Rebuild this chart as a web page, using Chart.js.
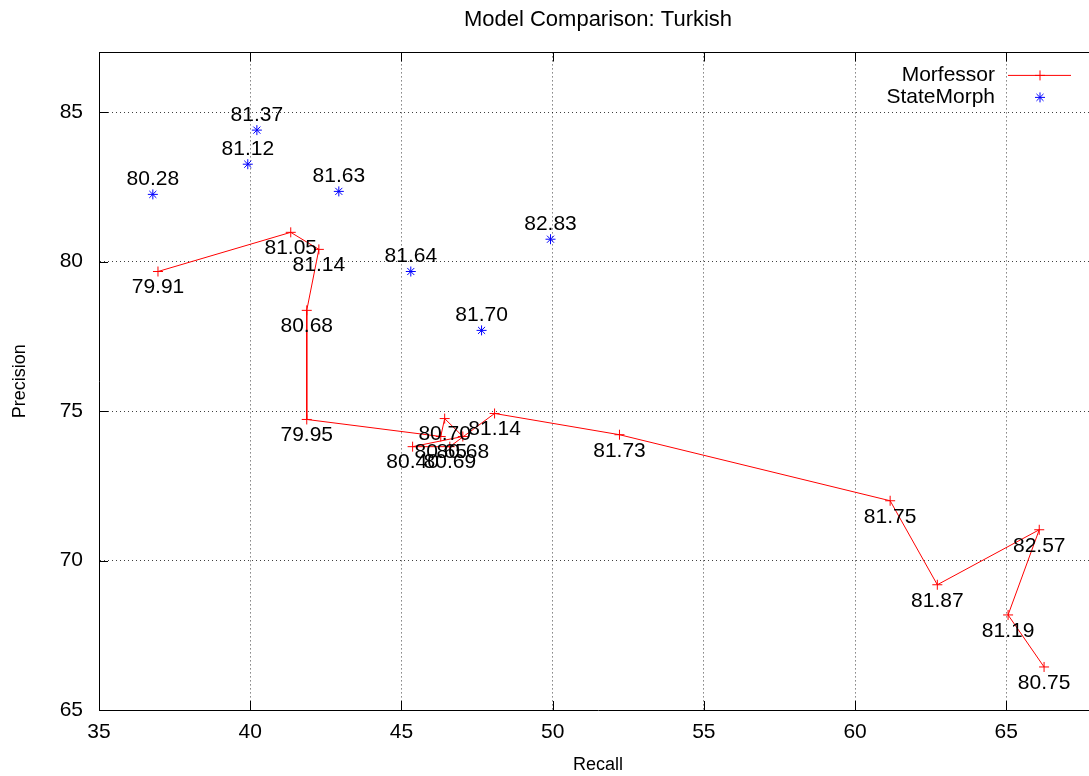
<!DOCTYPE html>
<html>
<head>
<meta charset="utf-8">
<script src="https://cdn.jsdelivr.net/npm/chart.js@4/dist/chart.umd.min.js"></script>
<style>
html, body { margin: 0; padding: 0; overflow: hidden; background: #fff; }
#wrap { width: 1196px; height: 776px; }
</style>
</head>
<body>
<div id="wrap"><canvas id="chart" width="1196" height="776"></canvas></div>
<script>
const morfRecall = [36.95, 41.34, 42.27, 41.87, 41.87, 46.30, 46.43, 47.03, 45.37, 46.60, 48.08, 52.21, 61.16, 62.72, 66.09, 65.06, 66.25];
const morfPrecision = [79.67, 80.98, 80.41, 78.37, 74.72, 74.15, 74.75, 74.15, 73.81, 73.81, 74.92, 74.21, 72.00, 69.19, 71.03, 68.18, 66.44];
const morfLabels = ['79.91', '81.05', '81.14', '80.68', '79.95', '80.65', '80.70', '80.68', '80.40', '80.69', '81.14', '81.73', '81.75', '81.87', '82.57', '81.19', '80.75'];

const smRecall = [36.78, 39.92, 40.22, 42.93, 49.93, 45.31, 47.65];
const smPrecision = [82.25, 83.26, 84.40, 82.35, 80.75, 79.67, 77.70];
const smLabels = ['80.28', '81.12', '81.37', '81.63', '82.83', '81.64', '81.70'];

const xTicks = [35, 40, 45, 50, 55, 60, 65];
const yTicks = [65, 70, 75, 80, 85];

const FONT = "'Liberation Sans', Arial, Helvetica, sans-serif";
const ctx = document.getElementById('chart');

function drawMark(c, style, x, y, r) {
    c.beginPath();
    c.moveTo(x - r, y); c.lineTo(x + r, y);
    c.moveTo(x, y - r); c.lineTo(x, y + r);
    if (style === 'star') {
        const d = r * Math.SQRT1_2;
        c.moveTo(x - d, y - d); c.lineTo(x + d, y + d);
        c.moveTo(x - d, y + d); c.lineTo(x + d, y - d);
    }
    c.stroke();
}

const pointText = {
    id: 'pointText',
    afterDatasetsDraw(chart) {
        const c = chart.ctx;
        c.save();
        c.font = '21px ' + FONT;
        c.fillStyle = '#000';
        c.textAlign = 'center';
        c.textBaseline = 'middle';
        chart.data.datasets.forEach((ds, i) => {
            chart.getDatasetMeta(i).data.forEach((pt, j) => {
                c.fillText(ds.pointText[j], pt.x, pt.y + ds.textOffset);
            });
        });
        c.restore();
    }
};

const frame = {
    id: 'frame',
    afterDraw(chart) {
        const {left, right, top, bottom} = chart.chartArea;
        const c = chart.ctx;
        const xs = chart.scales.x, ys = chart.scales.y;
        c.save();
        c.strokeStyle = '#000';
        c.lineWidth = 1;
        c.beginPath();
        const t = Math.round(top) + 0.5;
        c.moveTo(left, t); c.lineTo(right, t);
        xs.ticks.forEach((tk) => {
            const px = Math.round(xs.getPixelForValue(tk.value)) + 0.5;
            c.moveTo(px, bottom); c.lineTo(px, bottom - 9);
            c.moveTo(px, t); c.lineTo(px, t + 9);
        });
        ys.ticks.forEach((tk) => {
            const py = Math.round(ys.getPixelForValue(tk.value)) + 0.5;
            c.moveTo(left, py); c.lineTo(left + 9, py);
        });
        c.stroke();

        // key, top right inside the plot
        c.font = '21px ' + FONT;
        c.fillStyle = '#000';
        c.textAlign = 'right';
        c.textBaseline = 'middle';
        chart.data.datasets.forEach((ds, i) => {
            const y = top + 23 + i * 22;
            c.fillText(ds.label, right - 102, y);
            c.strokeStyle = ds.borderColor;
            if (ds.showLine) {
                c.beginPath();
                c.moveTo(right - 89, y); c.lineTo(right - 26, y);
                c.stroke();
            }
            drawMark(c, ds.pointStyle, right - 57, y, ds.pointRadius);
        });
        c.restore();
    }
};

new Chart(ctx, {
    type: 'scatter',
    data: {
        datasets: [
            {
                label: 'Morfessor',
                data: morfRecall.map((x, i) => ({x: x, y: morfPrecision[i]})),
                pointText: morfLabels,
                textOffset: 16,
                showLine: true,
                borderColor: '#ff0000',
                backgroundColor: '#ff0000',
                borderWidth: 1,
                pointStyle: 'cross',
                pointRadius: 5,
                pointHoverRadius: 5,
                pointBorderWidth: 1,
            },
            {
                label: 'StateMorph',
                data: smRecall.map((x, i) => ({x: x, y: smPrecision[i]})),
                pointText: smLabels,
                textOffset: -15,
                showLine: false,
                borderColor: '#0000ff',
                backgroundColor: '#0000ff',
                borderWidth: 1,
                pointStyle: 'star',
                pointRadius: 5,
                pointHoverRadius: 5,
                pointBorderWidth: 1,
            },
        ]
    },
    options: {
        responsive: false,
        animation: false,
        events: [],
        layout: {padding: 0},
        plugins: {
            legend: {display: false},
            tooltip: {enabled: false},
            title: {
                display: true,
                text: 'Model Comparison: Turkish',
                color: '#000',
                font: {family: FONT, size: 22, weight: 'normal'},
                padding: {top: 7, bottom: 19},
            },
        },
        scales: {
            x: {
                type: 'linear',
                min: 35,
                max: 68,
                afterFit: (s) => { s.height = 66; },
                afterBuildTicks: (s) => { s.ticks = xTicks.map((v) => ({value: v})); },
                ticks: {color: '#000', padding: 10, font: {family: FONT, size: 21}},
                grid: {color: 'rgba(0,0,0,0.75)', lineWidth: 1, drawTicks: false},
                border: {display: true, color: '#000', width: 1, dash: [1, 3]},
                title: {display: true, text: 'Recall', color: '#000', font: {family: FONT, size: 18}, padding: {top: 0, bottom: 0}},
            },
            y: {
                type: 'linear',
                min: 65,
                max: 87,
                afterFit: (s) => { s.width = 99; },
                afterBuildTicks: (s) => { s.ticks = yTicks.map((v) => ({value: v})); },
                ticks: {color: '#000', padding: 16, font: {family: FONT, size: 21}},
                grid: {color: 'rgba(0,0,0,0.75)', lineWidth: 1, drawTicks: false},
                border: {display: true, color: '#000', width: 1, dash: [1, 3]},
                title: {display: true, text: 'Precision', color: '#000', font: {family: FONT, size: 18}, padding: {top: 9, bottom: 0}},
            },
            yRight: {
                type: 'linear',
                position: 'right',
                min: 65,
                max: 87,
                afterFit: (s) => { s.width = 99; },
                ticks: {display: false},
                grid: {display: false, drawTicks: false},
                border: {display: false},
            },
        },
    },
    plugins: [pointText, frame],
});
</script>
</body>
</html>
